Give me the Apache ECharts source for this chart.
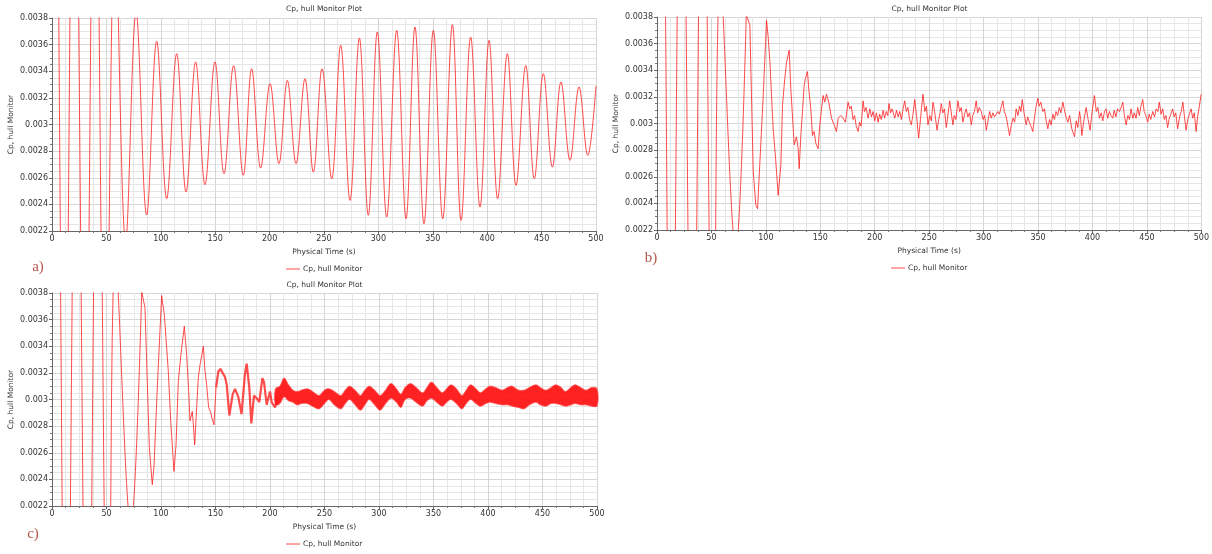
<!DOCTYPE html>
<html>
<head>
<meta charset="utf-8">
<script src="https://cdn.jsdelivr.net/npm/echarts@6/dist/echarts.min.js"></script>
<style>
html,body{margin:0;padding:0;background:#fff;}
#chart{width:1212px;height:554px;}
</style>
</head>
<body>
<div id="chart"></div>
<script>
// ---------- data ----------
const seriesName = 'Cp, hull Monitor';
const plotTitle = 'Cp, hull Monitor Plot';
const xName = 'Physical Time (s)';
const panelLetters = ['a)', 'b)', 'c)'];

// panel a: peaks / troughs of the oscillation
const aT = [0, 2.2, 11.2, 20.4, 30.3, 39.5, 48.9, 58, 67.7, 77.3, 87, 96.2, 105.4, 114.6, 123.2, 132, 140.6, 149.8, 158.1, 166.9,
  175.8, 183.5, 191.8, 200.4, 208.6, 216.3, 224.3, 232.5, 240.2, 248.2, 257.1, 265.3, 273.9, 282.5, 290.7, 299, 307.6, 316.8, 325.4,
  333.6, 341.9, 350.5, 359.1, 368, 376, 384.8, 393.4, 401.7, 409.6, 418.5, 426.5, 435.4, 443.3, 451.6, 459.9, 467.8, 476.1, 484.4, 492.4, 500];
const aV = [0.0058, 0.0060, 0.0000, 0.0060, 0.0002, 0.0058, 0.0005, 0.0045, 0.00212, 0.00384, 0.00232, 0.003625, 0.002443, 0.003532, 0.002493, 0.00347, 0.002548, 0.00347, 0.00263, 0.003442,
  0.002618, 0.003419, 0.002673, 0.003307, 0.002706, 0.003332, 0.002706, 0.003344, 0.002643, 0.003419, 0.002593, 0.003595, 0.00243, 0.00365, 0.002318, 0.003695, 0.002305, 0.003707, 0.002292,
  0.003732, 0.002255, 0.003707, 0.002292, 0.00375, 0.00228, 0.003657, 0.00238, 0.003632, 0.002443, 0.003532, 0.002543, 0.003444, 0.002593, 0.003382, 0.00268, 0.003319, 0.002731, 0.003282, 0.002768, 0.00329];

// panel b: early large swings, then the settled noisy signal
const bEarlyT = [0, 3.5, 12.9, 22.6, 32.5, 42.1, 51.6, 58.2, 72.3, 82];
const bEarlyV = [0.0058, 0.0060, 0.0000, 0.0060, 0.0001, 0.0059, 0.0004, 0.0041, 0.00205, 0.00382];
const bT = [82, 85.3, 88.4, 90.8, 92.4, 93.2, 94.5, 97.6, 100.6, 102.1, 103.7, 105.2, 106.7, 108.9, 111.3, 113.8, 115.3, 117.4, 119, 121.4,
  122.9, 124.2, 126, 128.1, 129.7, 130.6, 132.1, 133.6, 135.2, 136.4, 138.2, 139.5, 141.3, 142.8, 144.3, 145.9, 148, 149.5, 151, 152.6,
  154.1, 155.6, 157.8, 160.3, 162.7, 164.8, 166.4, 168.8, 170.9, 173.1, 175.5,
  177, 178.5, 180, 181.5, 183, 184.7, 186, 187.5, 189.3, 190.5, 192, 193.9, 195.5, 197, 198.5, 200, 201.5, 203.1, 204.5, 206,
  207.7, 209, 210.5, 212, 213.1, 214.5, 216, 218.4, 220, 221.5, 222.9, 224.5, 226, 227.5, 229, 230.5, 232, 233.6, 235, 236.7,
  238.5, 240.3, 242, 243, 244.3, 246, 247.5, 248.9, 250.5, 252, 253.5, 255, 257.2, 258.8, 260, 261.1, 262.5, 264, 265.7, 267,
  268.8, 270.3, 271.8, 273, 274.5, 276.4, 278, 279.5, 281, 282.5, 284, 285.5, 287, 288.7, 290, 291.5, 293.2, 294.5, 296, 297.8,
  299.5, 301, 302.4, 304, 305.5, 307, 308.5, 310, 311.6, 313, 314.5, 316, 317.7, 319, 320.8, 322.3, 323.8, 325.5, 327, 328.5,
  329.9, 331.5, 333, 334.3, 335.5, 337.3, 339.1, 340.5, 342, 343.5, 345.2, 346.5, 348, 349.8, 351, 352.5, 354.4, 355.8, 357.5, 359,
  360.5, 362, 363.6, 365, 366.5, 368, 369.5, 371, 372.8, 374.5, 376, 377.4, 379, 381, 383.5, 385, 386.5, 388.1, 389.2, 390.2,
  392, 394.2, 396, 397.8, 399.5, 401.8, 403.5, 405, 406.4, 408, 409.5, 411, 412.5, 414, 415.5, 417, 418.6, 420, 421.5, 423,
  424.8, 426.3, 427.8, 429.3, 430.9, 432.5, 434, 435.4, 437, 438.5, 440, 441.5, 443, 444.5, 446.1, 447.5, 449, 450.7, 452, 453.5,
  455.3, 457, 458.5, 460, 461.4, 463, 464.5, 466, 467.5, 469, 470.5, 472, 473.6, 475, 476.5, 478.2, 480, 481.5, 483, 484.5,
  486, 487.5, 489, 490.6, 492, 493.5, 495.2, 496.5, 498, 499.8];
const bV = [0.00382, 0.003737, 0.002636, 0.002385, 0.00236, 0.0025, 0.0025, 0.003212, 0.003775, 0.00365, 0.003462, 0.00321, 0.00296, 0.00274, 0.00246, 0.00269, 0.00314, 0.00334, 0.00346, 0.003551,
  0.00326, 0.00309, 0.00284, 0.0029, 0.00281, 0.00266, 0.00291, 0.00309, 0.00329, 0.00334, 0.00339, 0.00325, 0.00311, 0.00291, 0.00294, 0.00285, 0.00281, 0.00299, 0.0031, 0.00321,
  0.00316, 0.00322, 0.00316, 0.00304, 0.00299, 0.00294, 0.00304, 0.00306, 0.00304, 0.00301, 0.00316,
  0.00311, 0.00313, 0.00303, 0.00306, 0.00298, 0.00294, 0.00301, 0.00298, 0.00317, 0.00309, 0.00312, 0.00304, 0.00311, 0.00305, 0.00309, 0.00302, 0.00308, 0.00301, 0.00307, 0.00303,
  0.0031, 0.00304, 0.00309, 0.00306, 0.00315, 0.00308, 0.00311, 0.00304, 0.0031, 0.00305, 0.00309, 0.00303, 0.00311, 0.00317, 0.00309, 0.00312, 0.00303, 0.00299, 0.00306, 0.00318,
  0.00305, 0.00289, 0.00303, 0.00312, 0.00322, 0.00309, 0.00313, 0.00299, 0.00306, 0.00302, 0.00316, 0.00309, 0.00295, 0.00303, 0.00308, 0.00315, 0.00308, 0.00311, 0.00297, 0.00305,
  0.00317, 0.00308, 0.00299, 0.00306, 0.00303, 0.00317, 0.00309, 0.00312, 0.00301, 0.00307, 0.00311, 0.00305, 0.00308, 0.00299, 0.00306, 0.00309, 0.00317, 0.00308, 0.00312, 0.00309,
  0.00303, 0.00306, 0.00295, 0.00302, 0.00309, 0.00304, 0.00308, 0.00305, 0.00306, 0.00309, 0.00307, 0.00312, 0.00317, 0.00309, 0.00305, 0.00298, 0.00291, 0.00299, 0.00304, 0.00301,
  0.00311, 0.00306, 0.00313, 0.00309, 0.00318, 0.00307, 0.00299, 0.00305, 0.00301, 0.00298, 0.00294, 0.00303, 0.00312, 0.00319, 0.00313, 0.00316, 0.00309, 0.00311, 0.00302, 0.00296,
  0.00303, 0.00299, 0.00307, 0.00303, 0.00309, 0.00306, 0.00312, 0.00308, 0.00316, 0.00309, 0.00304, 0.00301, 0.00306, 0.00296, 0.0029, 0.00302, 0.00297, 0.00309, 0.00303, 0.00291,
  0.00302, 0.00312, 0.00303, 0.00295, 0.00308, 0.00321, 0.00309, 0.00312, 0.00304, 0.00308, 0.00302, 0.00309, 0.00311, 0.00304, 0.00309, 0.00306, 0.00304, 0.0031, 0.00305, 0.00311,
  0.00309, 0.00312, 0.00316, 0.00306, 0.00299, 0.00306, 0.00303, 0.00311, 0.00304, 0.00308, 0.00304, 0.00312, 0.00306, 0.00313, 0.00318, 0.00309, 0.00306, 0.00301, 0.00307, 0.00303,
  0.00309, 0.00305, 0.00311, 0.00309, 0.00316, 0.00307, 0.00311, 0.00303, 0.00306, 0.00297, 0.00304, 0.00307, 0.00311, 0.00305, 0.00308, 0.00296, 0.00305, 0.00309, 0.00316, 0.00305,
  0.00295, 0.00303, 0.00307, 0.00311, 0.00304, 0.00308, 0.00294, 0.00305, 0.00312, 0.00322];

// panel c: early swings, transition, then a dense band (upper / lower edges)
const cEarlyT = [0, 3.5, 12.9, 22.6, 32.5, 42.1, 51.6, 58.2, 72.3, 82.3];
const cEarlyV = [0.0058, 0.0060, 0.0000, 0.0060, 0.0001, 0.0059, 0.0004, 0.0041, 0.00205, 0.00381];
const cMidT = [82.3, 85.3, 89.3, 92, 93.6, 96.6, 100.6, 103, 104.6, 106.7, 108.9, 111.9, 113.8, 115.9, 118.3, 121.4, 123.5, 125.4, 126.6, 128.7,
  129.7, 130.9, 132.7, 134.2, 135.8, 137.6, 138.8, 140.4, 141.9, 143.7, 145.3, 146.8, 148.6, 150.5];
const cMidV = [0.00381, 0.00369, 0.00264, 0.00236, 0.0025, 0.00309, 0.00378, 0.00364, 0.00346, 0.00321, 0.00284, 0.00246, 0.00266, 0.00314, 0.00334, 0.00355, 0.00334, 0.00306, 0.00284, 0.00291,
  0.00281, 0.00266, 0.00294, 0.00316, 0.00326, 0.00334, 0.0034, 0.00321, 0.00311, 0.00294, 0.00291, 0.00286, 0.00281, 0.00309];
const cLateT = [150.5, 152.6, 154.5, 156.5, 158.7, 160.3, 162.7, 165.8, 167.9, 170.9, 173.9, 177, 178.6, 181, 182.9, 185.3, 187.8, 190.2, 193, 194.5,
  197, 200, 201.5, 204.6, 207];
const cLateV = [0.00309, 0.00321, 0.00323, 0.0032, 0.00317, 0.00311, 0.00288, 0.00304, 0.00308, 0.00302, 0.00289, 0.00319, 0.00327, 0.00309, 0.00282, 0.00303, 0.00301, 0.00298, 0.00316, 0.00313,
  0.00296, 0.00306, 0.00298, 0.00294, 0.00302];
const cBandT = [205, 209, 213, 217, 221, 225, 229, 234, 239, 245, 250, 254, 259, 265, 269, 273, 278, 283, 287, 291,
  296, 301, 306, 311, 316, 320, 324, 329, 334, 340, 344, 348, 353, 358, 362, 366, 371, 376, 380, 384,
  389, 393, 398, 402, 407, 413, 418, 422, 428, 433, 438, 444, 448, 453, 458, 462, 467, 471, 476, 480, 485, 490, 495, 500];
const cBandUpper = [0.00308, 0.0031, 0.00316, 0.00311, 0.00307, 0.00306, 0.00307, 0.00308, 0.00306, 0.00303, 0.00307, 0.00308, 0.00306, 0.00303, 0.00307, 0.0031, 0.00307, 0.00303, 0.00307, 0.0031,
  0.00307, 0.00303, 0.00307, 0.00312, 0.00308, 0.00304, 0.00309, 0.00312, 0.00309, 0.00305, 0.00309, 0.00313, 0.00309, 0.00305, 0.00308, 0.00311, 0.00308, 0.00303, 0.00307, 0.00311,
  0.00308, 0.00305, 0.00308, 0.0031, 0.00309, 0.00307, 0.00309, 0.0031, 0.00307, 0.00307, 0.00309, 0.00311, 0.00309, 0.00307, 0.00309, 0.00311, 0.00309, 0.00306, 0.00309, 0.00311, 0.00309, 0.00307, 0.00309, 0.00308];
const cBandLower = [0.00296, 0.00297, 0.00302, 0.00299, 0.00298, 0.00296, 0.00297, 0.00297, 0.00295, 0.00293, 0.00297, 0.003, 0.00296, 0.00293, 0.00297, 0.003, 0.00296, 0.00292, 0.00296, 0.003,
  0.00296, 0.00292, 0.00297, 0.00301, 0.00298, 0.00294, 0.003, 0.00301, 0.00298, 0.00295, 0.00299, 0.00301, 0.00298, 0.00295, 0.00298, 0.003, 0.00297, 0.00293, 0.00297, 0.003,
  0.00297, 0.00295, 0.00297, 0.00298, 0.00297, 0.00296, 0.00296, 0.00295, 0.00294, 0.00293, 0.00296, 0.00298, 0.00296, 0.00295, 0.00297, 0.00297, 0.00296, 0.00295, 0.00296, 0.00297, 0.00296, 0.00296, 0.00295, 0.00295];

// ---------- chart ----------
const pairs = (T, V) => T.map((t, i) => [t, V[i]]);
const RED = 'rgba(255,25,25,0.78)';
const BAND = 'rgba(255,15,15,0.92)';
const FONT = 'DejaVu Sans';

const grids = [
  { left: 52, top: 18, width: 544, height: 213 },
  { left: 657, top: 17, width: 545, height: 213 },
  { left: 52, top: 293, width: 545, height: 213 }
];

function xAxisFor(i) {
  return {
    gridIndex: i, type: 'value', min: 0, max: 500, interval: 50,
    name: xName, nameLocation: 'middle', nameGap: 17,
    nameTextStyle: { fontFamily: FONT, fontSize: 7.5, color: '#333' },
    axisLine: { show: true, onZero: false, lineStyle: { color: '#666', width: 1 } },
    axisTick: { show: true, length: 3, lineStyle: { color: '#666' } },
    minorTick: { show: true, splitNumber: 4, length: 2, lineStyle: { color: '#777' } },
    splitLine: { show: true, lineStyle: { color: '#d6d6d6', width: 1 } },
    minorSplitLine: { show: true, lineStyle: { color: '#e6e6e6', width: 1 } },
    axisLabel: { fontFamily: FONT, fontSize: 8, color: '#333', margin: 4 }
  };
}
function yAxisFor(i) {
  return {
    gridIndex: i, type: 'value', min: 0.0022, max: 0.0038, interval: 0.0002,
    name: seriesName, nameLocation: 'middle', nameGap: 37, nameRotate: 90,
    nameTextStyle: { fontFamily: FONT, fontSize: 7.5, color: '#333' },
    axisLine: { show: true, onZero: false, lineStyle: { color: '#666', width: 1 } },
    axisTick: { show: true, length: 3, lineStyle: { color: '#666' } },
    minorTick: { show: true, splitNumber: 4, length: 2, lineStyle: { color: '#777' } },
    splitLine: { show: true, lineStyle: { color: '#d6d6d6', width: 1 } },
    minorSplitLine: { show: true, lineStyle: { color: '#e6e6e6', width: 1 } },
    axisLabel: { fontFamily: FONT, fontSize: 8, color: '#333', margin: 4 }
  };
}

function lineSeries(idx, data, smooth, width) {
  return {
    name: seriesName, type: 'line', xAxisIndex: idx, yAxisIndex: idx,
    data: data, smooth: smooth, symbol: 'none', showSymbol: false,
    clip: true, color: RED, silent: true,
    lineStyle: { color: RED, width: width }
  };
}

const bandSeries = {
  name: seriesName, type: 'custom', xAxisIndex: 2, yAxisIndex: 2,
  data: [0], silent: true,
  renderItem: function (params, api) {
    if (params.dataIndex !== 0) return null;
    const pts = [];
    for (let i = 0; i < cBandT.length; i++) pts.push(api.coord([cBandT[i], cBandUpper[i]]));
    for (let i = cBandT.length - 1; i >= 0; i--) pts.push(api.coord([cBandT[i], cBandLower[i]]));
    return { type: 'polygon', shape: { points: pts, smooth: 0.35 }, style: { fill: BAND, stroke: 'rgba(255,60,60,0.6)', lineWidth: 1.2 } };
  }
};

const series = [
  lineSeries(0, pairs(aT, aV), 0.38, 1),
  lineSeries(1, pairs(bEarlyT, bEarlyV), 0.38, 1),
  lineSeries(1, pairs(bT, bV), false, 1),
  lineSeries(2, pairs(cEarlyT, cEarlyV), 0.38, 1),
  lineSeries(2, pairs(cMidT, cMidV), false, 1),
  lineSeries(2, pairs(cLateT, cLateV), false, 2.2),
  bandSeries
];

function centerText(x, y, text, style) {
  return { type: 'text', x: x, y: y, silent: true, style: Object.assign({ text: text, textAlign: 'center', textVerticalAlign: 'middle' }, style) };
}
function legendItem(x, y) {
  return [
    { type: 'line', silent: true, shape: { x1: x, y1: y, x2: x + 14, y2: y }, style: { stroke: RED, lineWidth: 1 } },
    { type: 'text', x: x + 17, y: y, silent: true, style: { text: seriesName, textAlign: 'left', textVerticalAlign: 'middle', font: '7.5px "DejaVu Sans"', fill: '#333' } }
  ];
}
const titleStyle = { font: '7.5px "DejaVu Sans"', fill: '#333' };
const letterStyle = { font: '15px "Liberation Serif"', fill: '#b5574c' };

const option = {
  animation: false,
  backgroundColor: '#ffffff',
  grid: grids,
  xAxis: [xAxisFor(0), xAxisFor(1), xAxisFor(2)],
  yAxis: [yAxisFor(0), yAxisFor(1), yAxisFor(2)],
  series: series,
  graphic: [
    centerText(324, 9, plotTitle, titleStyle),
    centerText(929.5, 9, plotTitle, titleStyle),
    centerText(324.5, 285, plotTitle, titleStyle),
    centerText(38, 267, panelLetters[0], letterStyle),
    centerText(651, 258, panelLetters[1], letterStyle),
    centerText(33, 534, panelLetters[2], letterStyle)
  ].concat(legendItem(286, 269), legendItem(891, 268), legendItem(286, 544))
};

const chart = echarts.init(document.getElementById('chart'), null, { renderer: 'canvas' });
chart.setOption(option);
</script>
</body>
</html>
